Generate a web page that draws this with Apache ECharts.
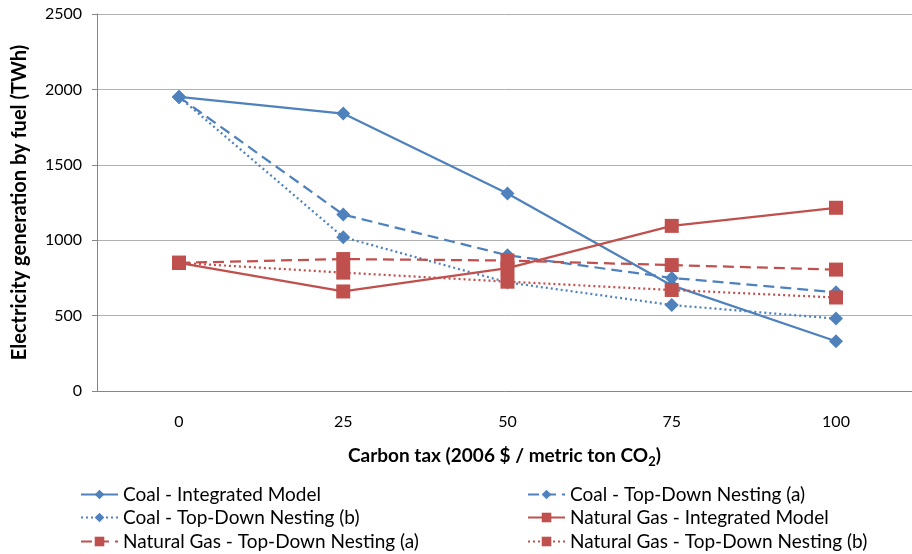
<!DOCTYPE html>
<html>
<head>
<meta charset="utf-8">
<script src="https://cdn.jsdelivr.net/npm/echarts@6/dist/echarts.min.js"></script>
<style>html,body{margin:0;padding:0;background:#fff}#c{width:912px;height:554px}</style>
</head>
<body>
<div id="c"></div>
<script>
var taxLevels = [0, 25, 50, 75, 100];
var coalIntegrated = [1950, 1840, 1310, 700, 330];
var coalTopDownA = [1950, 1170, 900, 750, 655];
var coalTopDownB = [1950, 1020, 720, 570, 480];
var gasIntegrated = [850, 660, 815, 1095, 1215];
var gasTopDownA = [850, 875, 865, 835, 805];
var gasTopDownB = [850, 785, 725, 670, 620];
var names = [
  'Coal - Integrated Model',
  'Coal - Top-Down Nesting (a)',
  'Coal - Top-Down Nesting (b)',
  'Natural Gas - Integrated Model',
  'Natural Gas - Top-Down Nesting (a)',
  'Natural Gas - Top-Down Nesting (b)'
];

var BLUE = '#4F81BD', RED = '#C0504D';
var FONT = 'Lato, "Open Sans", sans-serif';
var chart = echarts.init(document.getElementById('c'));

function pairs(vals) {
  return vals.map(function (v, i) { return [taxLevels[i], v]; });
}
function mk(name, data, color, type, symbol, size) {
  return {
    name: name, type: 'line', data: pairs(data),
    symbol: symbol, symbolSize: size,
    itemStyle: { color: color },
    lineStyle: { color: color, width: 2.25, type: type },
    emphasis: { disabled: true },
    animation: false
  };
}

var legendPos = [
  [80, 485], [527, 485],
  [80, 508], [527, 508],
  [80, 532], [527, 532]
];
var legends = names.map(function (n, i) {
  return {
    data: [n], left: legendPos[i][0], top: legendPos[i][1],
    padding: 0,
    itemWidth: 37, itemHeight: 12, itemGap: 4,
    textStyle: { fontFamily: FONT, fontSize: 19, color: '#000' },
    selectedMode: false
  };
});

chart.setOption({
  animation: false,
  legend: legends,
  grid: { left: 97, right: 0, top: 14, bottom: 163, containLabel: false },
  xAxis: {
    type: 'value', min: -12.48, max: 111.57,
    splitLine: { show: false },
    axisLine: { onZero: false, lineStyle: { color: '#868686', width: 1 } },
    axisTick: { show: false },
    axisLabel: { fontFamily: FONT, fontSize: 16, color: '#000', margin: 23,
      customValues: taxLevels },
    name: 'Carbon tax (2006 $ / metric ton CO{sub|2})',
    nameLocation: 'middle', nameGap: 52,
    nameTextStyle: {
      fontFamily: FONT, fontSize: 19, fontWeight: 'bold', color: '#000',
      rich: { sub: { fontFamily: FONT, fontSize: 13, fontWeight: 'bold', color: '#000', padding: [12, 0, 0, 0] } }
    }
  },
  yAxis: {
    type: 'value', min: 0, max: 2500, interval: 500,
    axisLine: { show: true, onZero: false, lineStyle: { color: '#868686', width: 1 } },
    axisTick: { show: true, length: 5, lineStyle: { color: '#868686' } },
    splitLine: { lineStyle: { color: '#B0B0B0', width: 1 } },
    axisLabel: { fontFamily: FONT, fontSize: 16, color: '#000', margin: 15,
      formatter: function (v) { return String(v); } },
    name: 'Electricity generation by fuel (TWh)',
    nameLocation: 'middle', nameGap: 67,
    nameTextStyle: { fontFamily: FONT, fontSize: 20, fontWeight: 'bold', color: '#000' }
  },
  series: [
    mk(names[0], coalIntegrated, BLUE, 'solid', 'diamond', 14),
    mk(names[1], coalTopDownA, BLUE, [11, 6], 'diamond', 14),
    mk(names[2], coalTopDownB, BLUE, [2, 3], 'diamond', 14),
    mk(names[3], gasIntegrated, RED, 'solid', 'rect', 14),
    mk(names[4], gasTopDownA, RED, [11, 6], 'rect', 14),
    mk(names[5], gasTopDownB, RED, [2, 3], 'rect', 14)
  ]
});
</script>
</body>
</html>
